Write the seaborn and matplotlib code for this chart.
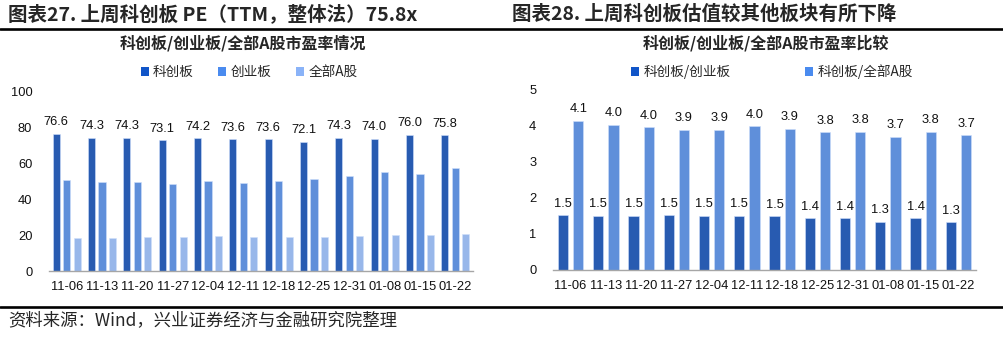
import numpy as np
import pandas as pd
import matplotlib
matplotlib.use("Agg")
import matplotlib.pyplot as plt
from matplotlib.lines import Line2D
from matplotlib.patches import Patch
import seaborn as sns

dates = ["11-06", "11-13", "11-20", "11-27", "12-04", "12-11",
         "12-18", "12-25", "12-31", "01-08", "01-15", "01-22"]
star_pe = [76.6, 74.3, 74.3, 73.1, 74.2, 73.6, 73.6, 72.1, 74.3, 74.0, 76.0, 75.8]
gem_pe = [50.7, 50.0, 49.6, 48.5, 50.2, 49.1, 50.4, 51.3, 53.0, 55.4, 54.1, 57.8]
all_a_pe = [18.6, 18.6, 19.0, 19.0, 19.3, 18.8, 19.0, 19.0, 19.7, 20.3, 20.1, 20.4]
ratio_gem = [1.52, 1.51, 1.51, 1.52, 1.50, 1.51, 1.49, 1.44, 1.44, 1.34, 1.44, 1.33]
ratio_all = [4.14, 4.04, 3.97, 3.90, 3.90, 3.99, 3.92, 3.83, 3.84, 3.70, 3.84, 3.74]

left_series = ["科创板", "创业板", "全部A股"]
right_series = ["科创板/创业板", "科创板/全部A股"]
left_colors = ["#1155C8", "#4A8BEF", "#8AB3F8"]
right_colors = ["#1155C8", "#4A8BEF"]

sns.set_style("white")
plt.rcParams["font.family"] = ["Liberation Sans", "Noto Sans CJK SC", "DejaVu Sans"]
cjk = ["Noto Sans CJK SC", "DejaVu Sans"]

fig = plt.figure(figsize=(10.04, 3.38), dpi=100)
W, H = 1004, 338

def axes_px(x0, x1, ytop, ybot):
    return fig.add_axes([x0 / W, (H - ybot) / H, (x1 - x0) / W, (ybot - ytop) / H])

ax1 = axes_px(49, 473, 92, 271)
ax2 = axes_px(553, 976, 90, 270)

df1 = pd.DataFrame({
    "date": dates * 3,
    "value": star_pe + gem_pe + all_a_pe,
    "series": [left_series[0]] * 12 + [left_series[1]] * 12 + [left_series[2]] * 12,
})
df2 = pd.DataFrame({
    "date": dates * 2,
    "value": ratio_gem + ratio_all,
    "series": [right_series[0]] * 12 + [right_series[1]] * 12,
})

sns.barplot(data=df1, x="date", y="value", hue="series", hue_order=left_series,
            palette=left_colors, width=0.89, gap=0.33, ax=ax1, legend=False,
            edgecolor="#cfe0fb", linewidth=0.4)
sns.barplot(data=df2, x="date", y="value", hue="series", hue_order=right_series,
            palette=right_colors, width=0.86, gap=0.33, ax=ax2, legend=False,
            edgecolor="#cfe0fb", linewidth=0.4)

ax1.bar_label(ax1.containers[0], fmt="%.1f", padding=4, fontsize=9.3, color="#111111")
for c in ax2.containers:
    ax2.bar_label(c, fmt="%.1f", padding=4, fontsize=9.3, color="#111111")

ax1.set_ylim(0, 100)
ax1.set_yticks([0, 20, 40, 60, 80, 100])
ax2.set_ylim(0, 5)
ax2.set_yticks([0, 1, 2, 3, 4, 5])

for ax in (ax1, ax2):
    ax.set_xlim(-0.5, 11.5)
    ax.set_xlabel("")
    ax.set_ylabel("")
    for s in ("top", "right", "left"):
        ax.spines[s].set_visible(False)
    ax.spines["bottom"].set_color("#A6A6A6")
    ax.spines["bottom"].set_linewidth(1.0)
    ax.tick_params(axis="x", which="major", length=0, pad=7, labelsize=9.3, colors="#111111")
    ax.tick_params(axis="y", length=0, pad=12, labelsize=9.3, colors="#111111")
    ax.set_xticks(np.arange(-0.5, 12, 1), minor=True)
    ax.tick_params(axis="x", which="minor", length=4, color="#A6A6A6", width=1.0)
    ax.grid(False)
    ax.set_facecolor("white")

# titles
fig.text(8 / W, 1 - 14 / H, "图表27. 上周科创板 PE（TTM，整体法）75.8x", family=cjk,
         fontsize=14, fontweight="bold", va="center", ha="left")
fig.text(512 / W, 1 - 14 / H, "图表28. 上周科创板估值较其他板块有所下降", family=cjk,
         fontsize=14, fontweight="bold", va="center", ha="left")
fig.text(243 / W, 1 - 43 / H, "科创板/创业板/全部A股市盈率情况", family=cjk,
         fontsize=11.5, fontweight="bold", va="center", ha="center")
fig.text(766 / W, 1 - 43 / H, "科创板/创业板/全部A股市盈率比较", family=cjk,
         fontsize=11.5, fontweight="bold", va="center", ha="center")
fig.text(8 / W, 1 - 320 / H, "资料来源：Wind，兴业证券经济与金融研究院整理", family=cjk,
         fontsize=12.5, va="center", ha="left")

# horizontal rules
fig.add_artist(Line2D([0, 1], [1 - 28.5 / H] * 2, color="black", lw=1.9, transform=fig.transFigure))
fig.add_artist(Line2D([0, 1], [1 - 307 / H] * 2, color="black", lw=1.9, transform=fig.transFigure))

# legends
h1 = [Patch(facecolor=c, edgecolor="none") for c in left_colors]
fig.legend(h1, left_series, loc="center", bbox_to_anchor=(249 / W, 1 - 72 / H), ncol=3,
           frameon=False, prop={"family": cjk, "size": 9.8}, handlelength=0.6, handleheight=0.6,
           handletextpad=0.3, columnspacing=1.8)
h2 = [Patch(facecolor=c, edgecolor="none") for c in right_colors]
fig.legend(h2, right_series, loc="center", bbox_to_anchor=(772 / W, 1 - 72 / H), ncol=2,
           frameon=False, prop={"family": cjk, "size": 9.8}, handlelength=0.6, handleheight=0.6,
           handletextpad=0.3, columnspacing=5.5)

fig.savefig("out.png", dpi=100, facecolor="white")
